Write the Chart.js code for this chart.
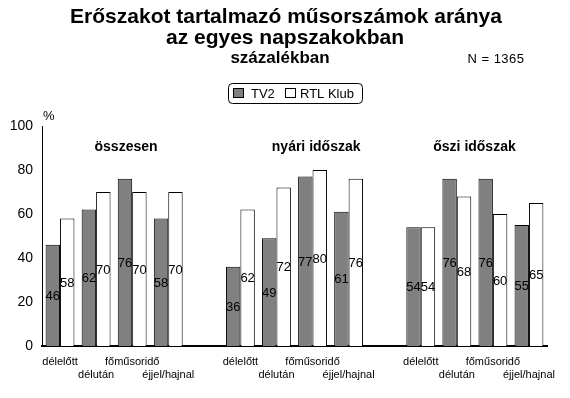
<!DOCTYPE html>
<html>
<head>
<meta charset="utf-8">
<script src="https://cdn.jsdelivr.net/npm/chart.js@4.4.0/dist/chart.umd.min.js"></script>
<style>
  html, body { margin: 0; padding: 0; background: #fff; }
  canvas { display: block; }
</style>
</head>
<body>
<canvas id="chart" width="570" height="398"></canvas>
<script>
// Chart data
const periods = ['összesen', 'nyári időszak', 'őszi időszak'];
const dayparts = ['délelőtt', 'délután', 'főműsoridő', 'éjjel/hajnal'];
const tv2Osszesen = [46, 62, 76, 58];
const tv2Nyari = [36, 49, 77, 61];
const tv2Oszi = [54, 76, 76, 55];
const rtlOsszesen = [58, 70, 70, 70];
const rtlNyari = [62, 72, 80, 76];
const rtlOszi = [54, 68, 60, 65];
const yTicks = [0, 20, 40, 60, 80, 100];

const FONT = '"Liberation Sans", Arial, sans-serif';

// Build the category slots: 4 dayparts per period, an empty slot between periods
const labels = [];
const tv2Data = [];
const rtlData = [];
[[tv2Osszesen, rtlOsszesen], [tv2Nyari, rtlNyari], [tv2Oszi, rtlOszi]].forEach(function(pair, g) {
    dayparts.forEach(function(name, i) {
        // staggered labels: even ones on the first line, odd ones on the second
        labels.push(i % 2 === 0 ? [name, ''] : ['', name]);
        tv2Data.push(pair[0][i]);
        rtlData.push(pair[1][i]);
    });
    if (g < periods.length - 1) {
        labels.push('');
        tv2Data.push(null);
        rtlData.push(null);
    }
});

// Titles, legend, period names and value labels
const decorations = {
    id: 'decorations',
    afterDatasetsDraw(chart) {
        const ctx = chart.ctx;
        const x = chart.scales.x;
        const y = chart.scales.y;
        ctx.save();
        ctx.fillStyle = '#000';

        // values inside the bars
        ctx.font = '13px ' + FONT;
        ctx.textAlign = 'center';
        ctx.textBaseline = 'middle';
        chart.data.datasets.forEach(function(ds, di) {
            chart.getDatasetMeta(di).data.forEach(function(bar, i) {
                const v = ds.data[i];
                if (v === null) return;
                ctx.fillText(String(v), bar.x, (bar.y + bar.base) / 2 + 1);
            });
        });

        // period names over each group
        ctx.font = 'bold 14px ' + FONT;
        const periodPos = [1.83, 7.1, 11.49];
        periods.forEach(function(p, g) {
            ctx.fillText(p, x.getPixelForValue(periodPos[g]), y.getPixelForValue(90.5));
        });

        // % unit label
        ctx.font = '13px ' + FONT;
        ctx.textAlign = 'left';
        ctx.fillText('%', x.left + 1, y.top - 10);
        ctx.restore();
    },
    beforeDraw(chart) {
        const ctx = chart.ctx;
        ctx.save();
        ctx.fillStyle = '#fff';
        ctx.fillRect(0, 0, chart.width, chart.height);
        ctx.fillStyle = '#000';
        ctx.textAlign = 'center';
        ctx.textBaseline = 'alphabetic';

        ctx.font = 'bold 21px ' + FONT;
        ctx.fillText('Erőszakot tartalmazó műsorszámok aránya', 286, 23);
        ctx.fillText('az egyes napszakokban', 285, 44);
        ctx.font = 'bold 17px ' + FONT;
        ctx.fillText('százalékban', 280, 63);
        ctx.font = '13px ' + FONT;
        ctx.letterSpacing = '0.5px';
        ctx.fillText('N = 1365', 496, 63);
        ctx.letterSpacing = '0px';

        // legend box
        ctx.lineWidth = 1;
        ctx.strokeStyle = '#000';
        ctx.beginPath();
        ctx.roundRect(228.5, 83.5, 134, 20, 4);
        ctx.stroke();
        ctx.textAlign = 'left';
        ctx.textBaseline = 'middle';
        ctx.font = '13px ' + FONT;
        const items = [[233.5, 251], [285.5, 300]];
        chart.data.datasets.forEach(function(ds, i) {
            ctx.fillStyle = ds.backgroundColor;
            ctx.fillRect(items[i][0], 88.5, 10, 9);
            ctx.strokeRect(items[i][0], 88.5, 10, 9);
            ctx.fillStyle = '#000';
            ctx.fillText(ds.label, items[i][1], 94);
        });
        ctx.restore();
    }
};

new Chart(document.getElementById('chart'), {
    type: 'bar',
    data: {
        labels: labels,
        datasets: [
            {
                label: 'TV2',
                data: tv2Data,
                backgroundColor: '#808080',
                borderColor: '#000',
                borderWidth: 1
            },
            {
                label: 'RTL Klub',
                data: rtlData,
                backgroundColor: '#ffffff',
                borderColor: '#000',
                borderWidth: 1
            }
        ]
    },
    options: {
        responsive: false,
        animation: false,
        layout: {
            padding: { top: 126, right: 23, left: 0, bottom: 0 }
        },
        datasets: {
            bar: {
                categoryPercentage: 0.8,
                barPercentage: 1.0
            }
        },
        plugins: {
            legend: { display: false },
            title: { display: false },
            tooltip: { enabled: false }
        },
        scales: {
            x: {
                grid: { display: false, drawTicks: false },
                border: { display: true, color: '#000', width: 2 },
                ticks: {
                    color: '#000',
                    font: { family: FONT, size: 11 },
                    maxRotation: 0,
                    autoSkip: false,
                    padding: 9
                },
                afterFit: function(scale) { scale.height = 52; }
            },
            y: {
                min: 0,
                max: 100,
                afterBuildTicks: function(scale) {
                    scale.ticks = yTicks.map(function(v) { return { value: v }; });
                },
                grid: { display: false, drawTicks: false },
                border: { display: true, color: '#000', width: 1 },
                ticks: {
                    color: '#000',
                    font: { family: FONT, size: 14 },
                    padding: 9
                },
                afterFit: function(scale) { scale.width = 42; }
            }
        }
    },
    plugins: [decorations]
});
</script>
</body>
</html>
